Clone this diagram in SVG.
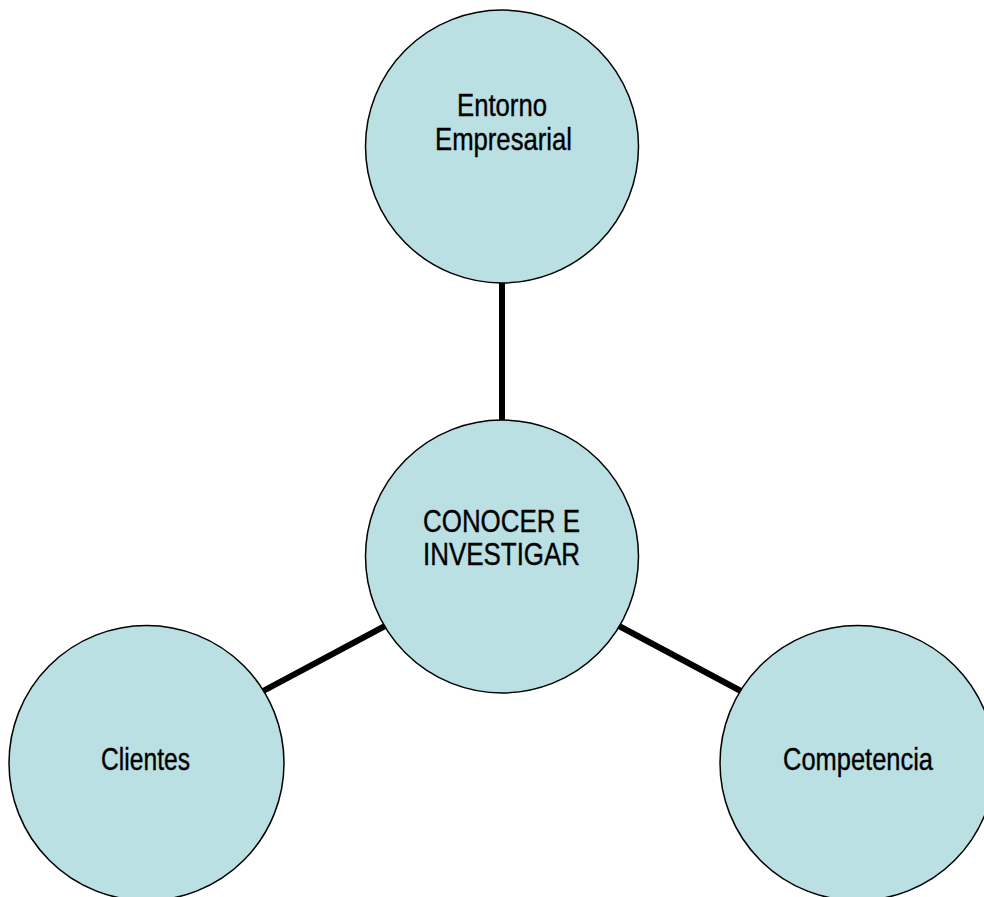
<svg xmlns="http://www.w3.org/2000/svg" width="984" height="897" viewBox="0 0 984 897">
  <style>
    .node { fill: #BAE0E4; stroke: #000000; stroke-width: 1.5; }
    .label { font-family: "Liberation Sans", Arial, sans-serif; font-size: 32px; fill: #000000; stroke: #000000; stroke-width: 0.4; text-anchor: middle; }
    .link { stroke: #000000; stroke-width: 6; stroke-linecap: butt; fill: none; }
  </style>
  <rect width="984" height="897" fill="#FFFFFF"/>

  <!-- connectors from the hub to each topic -->
  <g id="connectors">
    <line class="link" x1="502" y1="260" x2="502" y2="440"/>
    <line class="link" x1="250" y1="698" x2="400" y2="618"/>
    <line class="link" x1="604" y1="618" x2="754" y2="698"/>
  </g>

  <g id="entorno">
    <circle class="node" cx="502" cy="146.5" r="136.5"/>
    <text class="label" x="502" y="115.5" textLength="90" lengthAdjust="spacingAndGlyphs">Entorno</text>
    <text class="label" x="503.5" y="150" textLength="137" lengthAdjust="spacingAndGlyphs">Empresarial</text>
  </g>

  <g id="conocer">
    <circle class="node" cx="502" cy="556.5" r="136.5"/>
    <text class="label" x="501.5" y="531.5" textLength="157" lengthAdjust="spacingAndGlyphs">CONOCER E</text>
    <text class="label" x="501.5" y="565" textLength="157" lengthAdjust="spacingAndGlyphs">INVESTIGAR</text>
  </g>

  <g id="clientes">
    <circle class="node" cx="146.5" cy="763" r="137.5"/>
    <text class="label" x="145.5" y="770" textLength="89" lengthAdjust="spacingAndGlyphs">Clientes</text>
  </g>

  <g id="competencia">
    <circle class="node" cx="857.5" cy="763" r="137.5"/>
    <text class="label" x="858" y="770" textLength="150" lengthAdjust="spacingAndGlyphs">Competencia</text>
  </g>
</svg>
